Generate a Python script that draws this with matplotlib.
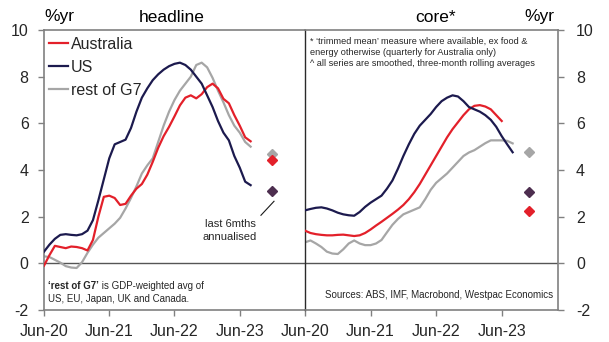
import numpy as np
import matplotlib.pyplot as plt

plt.rcParams['font.family'] = ['Liberation Sans', 'DejaVu Sans']
plt.rcParams['axes.unicode_minus'] = False

# monthly data from Jun-20, %yr
tick_pos = [0, 12, 24, 36]
tick_labels = ['Jun-20', 'Jun-21', 'Jun-22', 'Jun-23']

head_aus = [-0.1, 0.35, 0.75, 0.7, 0.65, 0.72, 0.7, 0.65, 0.55, 1.0, 2.0, 2.85,
            2.9, 2.8, 2.5, 2.55, 2.9, 3.2, 3.4, 3.8, 4.35, 4.95, 5.45, 5.85,
            6.3, 6.77, 7.1, 7.2, 7.07, 7.25, 7.55, 7.7, 7.5, 7.05, 6.86, 6.35,
            5.9, 5.4, 5.23]
head_us = [0.5, 0.8, 1.05, 1.22, 1.25, 1.22, 1.2, 1.25, 1.4, 1.85, 2.7, 3.6,
           4.5, 5.1, 5.2, 5.3, 5.8, 6.5, 7.1, 7.5, 7.85, 8.1, 8.3, 8.45,
           8.55, 8.6, 8.5, 8.3, 8.0, 7.7, 7.2, 6.7, 6.1, 5.6, 5.27, 4.6,
           4.1, 3.5, 3.35]
head_g7 = [0.3, 0.27, 0.15, 0.03, -0.12, -0.18, -0.2, 0.05, 0.45, 0.8, 1.1, 1.3,
           1.5, 1.7, 1.95, 2.35, 2.8, 3.3, 3.85, 4.2, 4.5, 5.2, 5.9, 6.5,
           7.0, 7.4, 7.7, 8.0, 8.5, 8.6, 8.4, 7.95, 7.4, 6.9, 6.35, 5.9,
           5.6, 5.2, 5.0]

core_aus = [1.4, 1.3, 1.25, 1.22, 1.2, 1.2, 1.22, 1.23, 1.2, 1.17, 1.2, 1.3,
            1.45, 1.62, 1.78, 1.95, 2.12, 2.3, 2.5, 2.75, 3.05, 3.4, 3.8, 4.2,
            4.6, 5.0, 5.4, 5.75, 6.05, 6.35, 6.6, 6.75, 6.78, 6.72, 6.6, 6.35,
            6.1]
core_us = [2.27, 2.33, 2.38, 2.4, 2.35, 2.27, 2.17, 2.1, 2.06, 2.04, 2.2, 2.42,
           2.6, 2.75, 2.9, 3.2, 3.55, 4.05, 4.6, 5.1, 5.55, 5.9, 6.15, 6.4,
           6.7, 6.95, 7.1, 7.2, 7.15, 6.95, 6.7, 6.6, 6.5, 6.35, 6.15, 5.85,
           5.45, 5.1, 4.76]
core_g7 = [0.9, 0.98, 0.85, 0.7, 0.5, 0.42, 0.4, 0.6, 0.85, 0.98, 0.85, 0.78,
           0.78, 0.85, 1.0, 1.33, 1.65, 1.9, 2.1, 2.2, 2.3, 2.4, 2.75, 3.15,
           3.45, 3.65, 3.85, 4.1, 4.35, 4.6, 4.75, 4.85, 5.0, 5.15, 5.27, 5.27,
           5.27, 5.25, 5.14]

# last 6mths annualised (aus, us, rest of G7)
head_6m = [4.42, 3.09, 4.7]
core_6m = [2.23, 3.04, 4.76]
head_6m_x = 42
core_6m_x = 41

RED = '#E3202A'
NAVY = '#1C1A4E'
GREY = '#A6A6A6'
PURPLE = '#4D2E4F'
AXGREY = '#808080'

fig = plt.figure(figsize=(6.09, 3.42), dpi=100)
axL = fig.add_axes([44 / 609, 32 / 342, 261 / 609, 280 / 342])
axR = fig.add_axes([305 / 609, 32 / 342, 253 / 609, 280 / 342])


def draw(ax, aus, us, g7, six, sx):
    ax.plot(np.arange(len(aus)), aus, color=RED, lw=1.6, label='Australia', zorder=3)
    ax.plot(np.arange(len(us)), us, color=NAVY, lw=1.6, label='US', zorder=3)
    ax.plot(np.arange(len(g7)), g7, color=GREY, lw=1.6, label='rest of G7', zorder=2)
    for v, c in zip([six[2], six[0], six[1]], [GREY, RED, PURPLE]):
        ax.plot([sx], [v], marker='D', ms=5, color=c, ls='none', zorder=4)
    ax.axhline(0, color='#555555', lw=1, zorder=1)
    ax.set_ylim(-2, 10)
    ax.set_yticks(range(-2, 11, 2))
    ax.set_xticks(tick_pos)
    ax.set_xticklabels(tick_labels)
    ax.tick_params(direction='out', length=4, width=1, color=AXGREY,
                   labelsize=11.5, labelcolor='#262626')
    ax.tick_params(axis='x', pad=6)
    for s in ax.spines.values():
        s.set_color(AXGREY)
        s.set_linewidth(1.2)


draw(axL, head_aus, head_us, head_g7, head_6m, head_6m_x)
draw(axR, core_aus, core_us, core_g7, core_6m, core_6m_x)

axL.set_xlim(0, 48)
axR.set_xlim(0, 46.3)
axL.tick_params(axis='y', pad=7)
# dark divider between the two panels
axL.spines['right'].set_visible(False)
axR.spines['left'].set_color('#2a2a2a')
axR.spines['left'].set_linewidth(1)
axR.yaxis.tick_right()
axR.tick_params(axis='y', pad=9)

leg = axL.legend(loc='upper left', bbox_to_anchor=(0.02, 0.975), frameon=False,
                 fontsize=11.5, handlelength=1.2, handletextpad=0.15,
                 labelspacing=0.5, borderaxespad=0, borderpad=0)
for t in leg.get_texts():
    t.set_color('#262626')

# annotation for the 6-month points
axL.plot([39.9, 42.3], [2.06, 2.66], color='#1a1a1a', lw=0.8)
axL.text(34.2, 1.4, 'last 6mths\nannualised', ha='center', va='center',
         fontsize=8, color='#262626', linespacing=1.4)

# headers
fig.text(44 / 609, 1 - 17 / 342, '%yr', ha='left', va='center', fontsize=12.5)
fig.text(172 / 609, 1 - 17 / 342, 'headline', ha='center', va='center', fontsize=12.5)
fig.text(436 / 609, 1 - 17 / 342, 'core*', ha='center', va='center', fontsize=12.5)
fig.text(539 / 609, 1 - 17 / 342, '%yr', ha='center', va='center', fontsize=12.5)

# footnotes
axR.text(0.02, 0.975, "* \u2018trimmed mean\u2019 measure where available, ex food &\n"
         "energy otherwise (quarterly for Australia only)\n"
         "^ all series are smoothed, three-month rolling averages",
         transform=axR.transAxes, ha='left', va='top', fontsize=6.6,
         color='#262626', linespacing=1.3)
axR.text(0.98, 0.035, 'Sources: ABS, IMF, Macrobond, Westpac Economics',
         transform=axR.transAxes, ha='right', va='bottom', fontsize=7,
         color='#262626')

bold = axL.text(0.015, 0.075, '\u2018rest of G7\u2019', transform=axL.transAxes,
                ha='left', va='baseline', fontsize=7, fontweight='bold',
                color='#262626')
fig.canvas.draw()
bb = bold.get_window_extent(fig.canvas.get_renderer())
x_end = axL.transAxes.inverted().transform((bb.x1, bb.y0))[0]
axL.text(x_end, 0.075, ' is GDP-weighted avg of', transform=axL.transAxes,
         ha='left', va='baseline', fontsize=7, color='#262626')
axL.text(0.015, 0.03, 'US, EU, Japan, UK and Canada.', transform=axL.transAxes,
         ha='left', va='baseline', fontsize=7, color='#262626')

fig.savefig('out.png', dpi=100)
